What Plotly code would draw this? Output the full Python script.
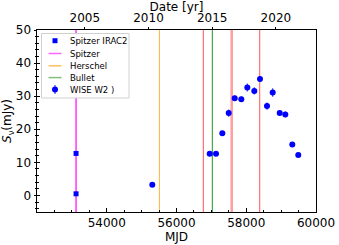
import plotly.graph_objects as go

# ---------------- data ----------------
spitzer_irac2_mjd = [53120, 53120]
spitzer_irac2_flux = [12.7, 0.5]

wise_mjd = [55306, 56952, 57133, 57314, 57497, 57669, 57858, 58030, 58231,
            58394, 58595, 58758, 58959, 59120, 59320, 59492]
wise_flux = [3.2, 12.6, 12.6, 18.8, 24.9, 29.4, 29.1, 32.6, 31.6,
             35.2, 27.0, 31.1, 24.9, 24.5, 15.4, 12.2]
wise_err = [0.4, 0.5, 0.5, 0.6, 1.1, 0.8, 0.8, 1.2, 1.1,
            0.9, 1.1, 1.3, 0.8, 0.9, 0.6, 0.5]

spitzer_line_mjd = [53120]
herschel_line_mjd = [55510]
bullet_line_mjd = [57027]
red_line_mjd = [56769, 58386]
red_thick_line_mjd = [57583]

mjd_ticks = [54000, 56000, 58000, 60000]
flux_ticks = [0, 10, 20, 30, 40, 50]
year_ticks = [2005, 2010, 2015, 2020]
x_range = [52000, 60000]
y_range = [-5, 50]

legend_labels = ["Spitzer IRAC2", "Spitzer", "Herschel", "Bullet", "WISE W2 )"]

FONT = "DejaVu Sans"
W, H = 339, 245
L, R, T, B = 37, 23, 30, 33


def year_to_mjd(y):
    return 51544.5 + (y - 2000) * 365.25


fig = go.Figure()


def vline(xs, color, width):
    for xv in xs:
        fig.add_trace(go.Scatter(x=[xv, xv], y=y_range, mode="lines",
                                 line=dict(color=color, width=width),
                                 showlegend=False, hoverinfo="skip"))


vline(spitzer_line_mjd, "#ff40ff", 1.6)
vline(herschel_line_mjd, "#ffb540", 1)
vline(red_line_mjd, "#ff5555", 1)
vline(red_thick_line_mjd, "#ffa0a0", 2.6)
vline(bullet_line_mjd, "#229922", 1)

fig.add_trace(go.Scatter(x=spitzer_irac2_mjd, y=spitzer_irac2_flux, mode="markers",
                         marker=dict(symbol="square", size=5, color="#0000ff"),
                         name="Spitzer IRAC2", showlegend=False))
fig.add_trace(go.Scatter(x=wise_mjd, y=wise_flux, mode="markers",
                         marker=dict(symbol="circle", size=6, color="#0000ff"),
                         error_y=dict(type="data", array=wise_err, color="#4040ff",
                                      thickness=1.2, width=0),
                         name="WISE W2 )", showlegend=False))

# invisible traces to activate the twin axes
fig.add_trace(go.Scatter(x=x_range, y=y_range, xaxis="x2", mode="markers",
                         marker=dict(opacity=0), showlegend=False, hoverinfo="skip"))
fig.add_trace(go.Scatter(x=x_range, y=y_range, yaxis="y2", mode="markers",
                         marker=dict(opacity=0), showlegend=False, hoverinfo="skip"))

axis_common = dict(showgrid=False, zeroline=False, showline=True, linecolor="black",
                   linewidth=1, automargin=False,
                   tickfont=dict(family=FONT, size=12, color="black"))

fig.update_layout(
    width=W, height=H,
    margin=dict(l=L, r=R, t=T, b=B, pad=0),
    paper_bgcolor="white", plot_bgcolor="white",
    showlegend=False,
    xaxis=dict(range=x_range, tickvals=mjd_ticks, ticktext=[str(v) for v in mjd_ticks],
               ticks="inside", ticklen=4, tickwidth=1, tickcolor="black",
               minor=dict(dtick=500, tick0=52000, ticks="inside", ticklen=2.5,
                          tickcolor="black", tickwidth=1),
               mirror=True,
               title=dict(text="MJD", font=dict(family=FONT, size=12, color="black"),
                          standoff=1),
               **axis_common),
    xaxis2=dict(range=x_range, overlaying="x", side="top",
                tickvals=[year_to_mjd(y) for y in year_ticks],
                ticktext=[str(y) for y in year_ticks],
                ticks="outside", ticklen=2, tickwidth=1, tickcolor="black",
                title=dict(text="Date [yr]", font=dict(family=FONT, size=12, color="black"),
                           standoff=0),
                **axis_common),
    yaxis=dict(range=y_range, tickvals=flux_ticks, ticktext=[str(v) for v in flux_ticks],
               ticks="outside", ticklen=2.5, tickwidth=1, tickcolor="black",
               minor=dict(dtick=2, tick0=0, ticks="outside", ticklen=1.5,
                          tickcolor="black", tickwidth=1),
               mirror=True,
               title=dict(text="<i>S</i><sub>ν</sub>(mJy)",
                          font=dict(family=FONT, size=12, color="black"), standoff=2),
               **axis_common),
    yaxis2=dict(range=y_range, overlaying="y", side="left",
                tickvals=flux_ticks, showticklabels=False,
                ticks="inside", ticklen=2.5, tickwidth=1, tickcolor="black",
                minor=dict(dtick=2, tick0=0, ticks="inside", ticklen=1.5,
                           tickcolor="black", tickwidth=1),
                showgrid=False, zeroline=False, showline=False, automargin=False),
)

# ---------------- manual legend (pixel -> paper helper) ----------------
pw, ph = W - L - R, H - T - B


def px(xp):
    return (xp - L) / pw


def py(yp):
    return (H - B - yp) / ph


shapes = []
shapes.append(dict(type="rect", xref="paper", yref="paper",
                   x0=px(41.5), x1=px(129), y0=py(98), y1=py(33.5),
                   fillcolor="rgba(255,255,255,0.92)", line=dict(color="#d0d0d0", width=1),
                   layer="above"))
rows = [40.7, 53.5, 65.8, 77.6, 89.6]
hx0, hx1, hxc = 48.5, 61.5, 55
shapes.append(dict(type="rect", xref="paper", yref="paper",
                   x0=px(hxc - 2.5), x1=px(hxc + 2.5), y0=py(rows[0] + 2.5), y1=py(rows[0] - 2.5),
                   fillcolor="#0000ff", line=dict(width=0), layer="above"))
for r, col in zip(rows[1:4], ["#ff66ff", "#ffc060", "#80c080"]):
    shapes.append(dict(type="line", xref="paper", yref="paper",
                       x0=px(hx0), x1=px(hx1), y0=py(r), y1=py(r),
                       line=dict(color=col, width=1.5), layer="above"))
shapes.append(dict(type="line", xref="paper", yref="paper",
                   x0=px(hxc), x1=px(hxc), y0=py(rows[4] - 4.5), y1=py(rows[4] + 4.5),
                   line=dict(color="#4040ff", width=1.2), layer="above"))
shapes.append(dict(type="circle", xref="paper", yref="paper",
                   x0=px(hxc - 3), x1=px(hxc + 3), y0=py(rows[4] + 3), y1=py(rows[4] - 3),
                   fillcolor="#0000ff", line=dict(width=0), layer="above"))

annotations = []
for r, lab in zip(rows, legend_labels):
    annotations.append(dict(xref="paper", yref="paper", x=px(68), y=py(r),
                            text=lab, showarrow=False, xanchor="left", yanchor="middle",
                            font=dict(family=FONT, size=8.5, color="black")))

fig.update_layout(shapes=shapes, annotations=annotations)

fig.write_html("out.html", config={"displayModeBar": False},
               post_script="document.body.style.margin='0';document.body.style.padding='0';")
